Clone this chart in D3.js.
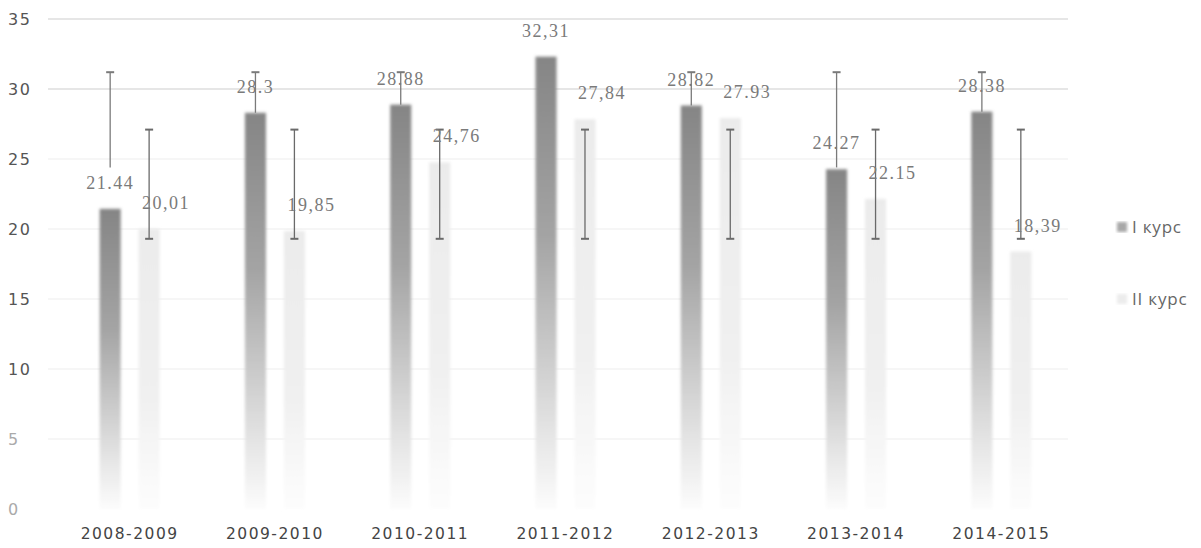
<!DOCTYPE html>
<html>
<head>
<meta charset="utf-8">
<script src="https://cdn.jsdelivr.net/npm/d3@7"></script>
<style>
  body { margin: 0; background: #fff; }
  svg { display: block; }
</style>
</head>
<body>
<svg id="chart" width="1201" height="548"></svg>
<script>
// data
var years = ["2008-2009","2009-2010","2010-2011","2011-2012","2012-2013","2013-2014","2014-2015"];
var series = ["I курс","II курс"];
var kurs1 = [21.44, 28.3, 28.88, 32.31, 28.82, 24.27, 28.38];
var kurs2 = [20.01, 19.85, 24.76, 27.84, 27.93, 22.15, 18.39];
var labels1 = ["21.44","28.3","28.88","32,31","28.82","24.27","28.38"];
var labels2 = ["20,01","19,85","24,76","27,84","27.93","22.15","18,39"];
var errLow1 = [24.4, 24.4, 24.4, 24.4, 24.4, 24.4, 24.4];
var errHigh1 = [31.2, 31.2, 31.2, 31.2, 31.2, 31.2, 31.2];
var errLow2 = [19.3, 19.3, 19.3, 19.3, 19.3, 19.3, 19.3];
var errHigh2 = [27.1, 27.1, 27.1, 27.1, 27.1, 27.1, 27.1];
var yTicks = [0, 5, 10, 15, 20, 25, 30, 35];

var svg = d3.select("#chart");

var x = d3.scaleBand().domain(years).range([57, 1074]).padding(0);
var xs = d3.scaleBand().domain(series).range([-30, 30]).paddingInner(0.46);
var y = d3.scaleLinear().domain([0, 35]).range([509, 19]);

var defs = svg.append("defs");
var g1 = defs.append("linearGradient").attr("id", "grad1")
    .attr("x1", 0).attr("y1", 0).attr("x2", 0).attr("y2", 1);
g1.append("stop").attr("offset", "0").attr("stop-color", "#858585");
g1.append("stop").attr("offset", "0.4").attr("stop-color", "#a4a4a4");
g1.append("stop").attr("offset", "0.8").attr("stop-color", "#e0e0e0");
g1.append("stop").attr("offset", "1").attr("stop-color", "#fcfcfc");
var g2 = defs.append("linearGradient").attr("id", "grad2")
    .attr("x1", 0).attr("y1", 0).attr("x2", 0).attr("y2", 1);
g2.append("stop").attr("offset", "0").attr("stop-color", "#ebebeb");
g2.append("stop").attr("offset", "0.6").attr("stop-color", "#f0f0f0");
g2.append("stop").attr("offset", "1").attr("stop-color", "#fdfdfd");
defs.append("filter").attr("id", "soft")
    .attr("x", "-20%").attr("y", "-5%").attr("width", "140%").attr("height", "110%")
  .append("feGaussianBlur").attr("stdDeviation", 1.4);

// gridlines
svg.append("g").selectAll("line")
    .data(yTicks.filter(function(d){ return d > 0; }))
    .enter().append("line")
    .attr("x1", 48).attr("x2", 1068)
    .attr("y1", function(d){ return y(d); })
    .attr("y2", function(d){ return y(d); })
    .attr("stroke", function(d){ return d >= 30 ? "#e6e6e6" : "#f6f6f6"; })
    .attr("stroke-width", 2);

// y axis labels
var yAxis = d3.axisLeft(y).tickValues(yTicks).tickSize(0).tickFormat(d3.format("d"));
var ya = svg.append("g").attr("transform", "translate(8,0)").call(yAxis);
ya.select(".domain").remove();
ya.selectAll("text")
    .attr("text-anchor", "start").attr("x", 0)
    .style("font-family", "'DejaVu Sans', sans-serif")
    .style("font-size", "16px")
    .style("letter-spacing", "1.5px")
    .attr("fill", function(d){ return d <= 5 ? "#aaa" : "#555"; });

// x axis labels
var xAxis = d3.axisBottom(x).tickSize(0);
var xa = svg.append("g").attr("transform", "translate(0,525)").call(xAxis);
xa.select(".domain").remove();
xa.selectAll("text")
    .style("font-family", "'DejaVu Sans', sans-serif")
    .style("font-size", "15.5px")
    .style("letter-spacing", "1.5px")
    .attr("fill", "#444");

var sets = [
  {vals: kurs1, labs: labels1, lo: errLow1, hi: errHigh1, name: series[0], fill: "url(#grad1)", err: "#7a7a7a", dx: 0, hidden: true},
  {vals: kurs2, labs: labels2, lo: errLow2, hi: errHigh2, name: series[1], fill: "url(#grad2)", err: "#6a6a6a", dx: 17, hidden: false}
];

function cx(s, i) {
  return x(years[i]) + x.bandwidth() / 2 + xs(s.name) + xs.bandwidth() / 2;
}

// bars
sets.forEach(function(s) {
  svg.append("g").attr("filter", "url(#soft)").selectAll("rect")
    .data(s.vals).enter().append("rect")
    .attr("x", function(d, i){ return x(years[i]) + x.bandwidth() / 2 + xs(s.name); })
    .attr("width", xs.bandwidth())
    .attr("y", function(d){ return y(d); })
    .attr("height", function(d){ return y(0) - y(d); })
    .attr("fill", s.fill);
});

// error bars; the dark I курс bars hide the part behind them
sets.forEach(function(s) {
  var eg = svg.append("g");
  years.forEach(function(yr, i) {
    var c = cx(s, i);
    var lo = s.lo[i];
    if (s.hidden) {
      if (s.vals[i] >= s.hi[i]) return;
      lo = Math.max(lo, s.vals[i]);
    }
    eg.append("line").attr("x1", c).attr("x2", c)
      .attr("y1", y(s.hi[i])).attr("y2", y(lo))
      .attr("stroke", s.err).attr("stroke-width", 1.3);
    var caps = s.hidden ? [s.hi[i]] : [s.hi[i], lo];
    caps.forEach(function(v) {
      eg.append("line").attr("x1", c - 4).attr("x2", c + 4)
        .attr("y1", y(v)).attr("y2", y(v))
        .attr("stroke", s.err).attr("stroke-width", 2);
    });
  });
});

// data labels
sets.forEach(function(s) {
  svg.append("g").selectAll("text")
    .data(s.vals).enter().append("text")
    .attr("x", function(d, i){ return cx(s, i) + s.dx; })
    .attr("y", function(d){ return y(d) - 20; })
    .attr("text-anchor", "middle")
    .style("font-family", "'Liberation Serif', serif")
    .style("font-size", "18px")
    .style("letter-spacing", "1.5px")
    .attr("fill", "#7a7a7a")
    .text(function(d, i){ return s.labs[i]; });
});

// legend
var leg = svg.append("g").attr("transform", "translate(1117,227)");
series.forEach(function(name, i) {
  var row = leg.append("g").attr("transform", "translate(0," + (i * 72) + ")");
  row.append("rect").attr("x", 0).attr("y", -5).attr("width", 10).attr("height", 10)
    .attr("fill", i === 0 ? "#a8a8a8" : "#ececec").attr("filter", "url(#soft)");
  row.append("text").attr("x", 15).attr("y", 6)
    .style("font-family", "'Open Sans', sans-serif")
    .style("font-size", "17px")
    .style("letter-spacing", "0.8px")
    .attr("fill", "#666")
    .text(name);
});
</script>
</body>
</html>
